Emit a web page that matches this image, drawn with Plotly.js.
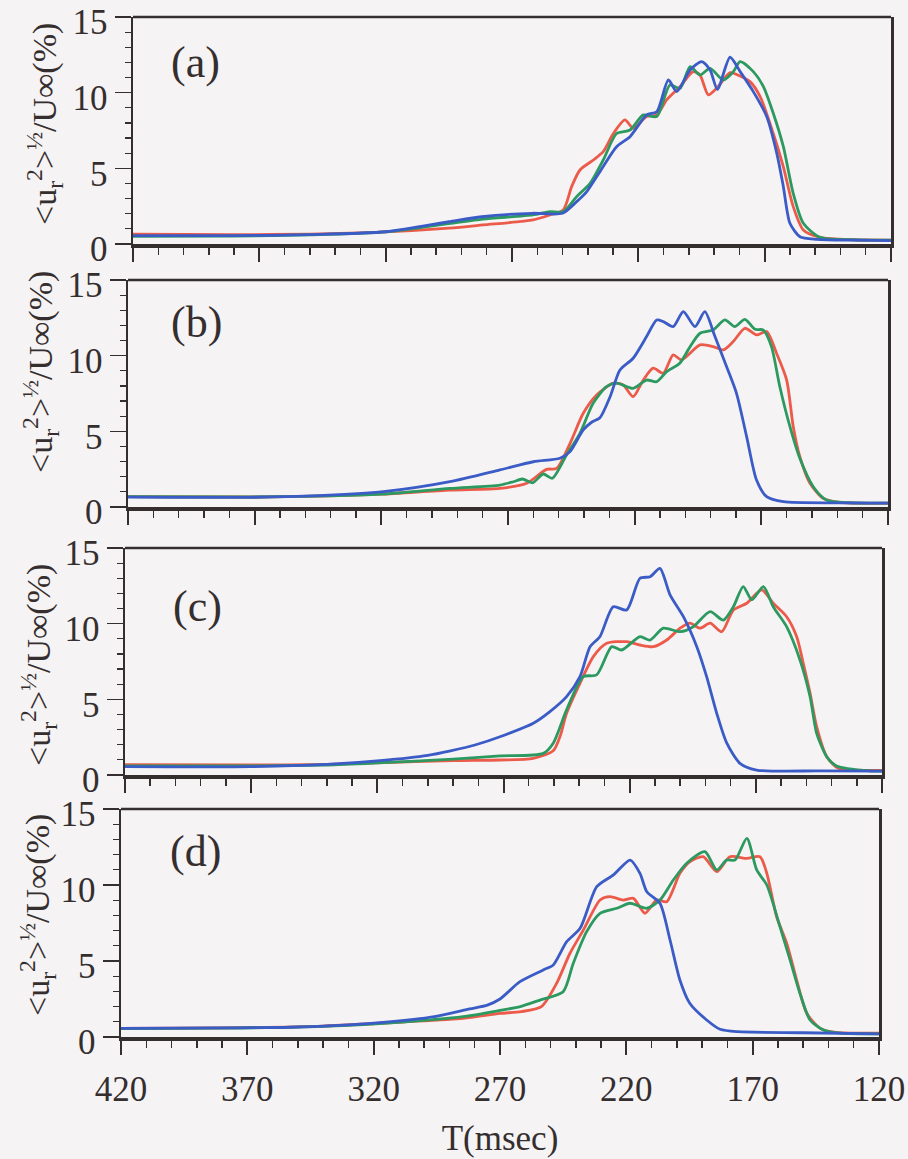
<!DOCTYPE html>
<html>
<head>
<meta charset="utf-8">
<script src="https://cdn.plot.ly/plotly-3.0.1.min.js"></script>
<style>
  html, body { margin: 0; padding: 0; background: #f5f3f4; }
  #chart { width: 908px; height: 1159px; }
</style>
</head>
<body>
<div id="chart"></div>
<script>
// ---------- data (T in msec, values in %) ----------
const PANEL_LABELS = ["(a)", "(b)", "(c)", "(d)"];
const X_TICKS = [420, 370, 320, 270, 220, 170, 120];
const Y_TICKS = [0, 5, 10, 15];

// Panel (a)
const T_A_RED = [420, 380, 350, 320, 295, 281.5, 261.7, 255, 249.7, 246.4, 243.1, 237.8, 233.9, 229.9, 225.3, 222, 216.7, 212.7, 208.8, 203.5, 198.3, 195.6, 192.3, 189, 183.7, 181.1, 175.8, 171.8, 166.6, 162.6, 158.7, 154.7, 148.1, 135, 120];
const V_A_RED = [0.65, 0.62, 0.65, 0.8, 1.05, 1.26, 1.59, 1.92, 2.25, 3.79, 4.89, 5.55, 6.1, 7.3, 8.2, 7.65, 8.42, 8.53, 9.52, 10.4, 11.39, 11.17, 9.85, 10.29, 11.32, 11.2, 10.73, 9.74, 7.3, 5.1, 2.47, 0.93, 0.44, 0.28, 0.26];
const T_A_GREEN = [420, 380, 350, 320, 295, 281.5, 261.7, 255, 249.7, 244.4, 239.1, 233.9, 228.6, 223.3, 218, 212.7, 207.5, 203.5, 199.5, 195.6, 191.6, 186.4, 182.4, 179.7, 174.5, 170.5, 166.6, 162.6, 158.7, 154.7, 148.1, 135, 120];
const V_A_GREEN = [0.5, 0.52, 0.6, 0.8, 1.35, 1.65, 1.92, 2.14, 2.14, 3.13, 4.01, 5.55, 7.3, 7.53, 8.53, 8.42, 10.51, 10.29, 11.72, 11.17, 11.61, 10.84, 11.39, 12.05, 11.39, 10.4, 8.64, 6.43, 3.35, 1.37, 0.44, 0.28, 0.25];
const T_A_BLUE = [420, 380, 350, 320, 295, 282, 262, 250, 244.4, 240.4, 235.2, 228.6, 223.3, 216.7, 212.7, 208.1, 204.8, 199.5, 194.9, 191.6, 188.7, 183.7, 179.7, 174.5, 169.2, 165.2, 162.6, 160, 156, 149.4, 135, 120];
const V_A_BLUE = [0.55, 0.55, 0.62, 0.81, 1.47, 1.8, 2.03, 2.03, 2.8, 3.46, 4.78, 6.43, 7.09, 8.53, 8.74, 10.84, 10.07, 11.5, 12.05, 11.5, 10.22, 12.34, 11.39, 10.07, 8.42, 5.99, 3.79, 1.37, 0.48, 0.31, 0.25, 0.22];

// Panel (b)
const T_B_RED = [420, 370, 345, 320, 292.9, 273.2, 262.6, 254.8, 250.8, 245.5, 240.3, 235, 228.4, 224.5, 220.6, 216.6, 212.7, 208.7, 204.8, 201.5, 194.2, 189, 185, 181.1, 176.5, 171.9, 167.9, 164, 160, 157.4, 154.8, 150.8, 145.6, 139, 120];
const V_B_RED = [0.68, 0.66, 0.72, 0.85, 1.12, 1.23, 1.57, 2.49, 2.55, 4.21, 6.19, 7.4, 8.18, 8.06, 7.29, 8.39, 9.17, 8.84, 10.05, 9.72, 10.71, 10.6, 10.38, 10.93, 11.81, 11.37, 11.59, 10.16, 8.39, 5.31, 3.33, 1.57, 0.58, 0.3, 0.25];
const T_B_GREEN = [420, 370, 345, 320, 292.9, 273.2, 267.9, 264.3, 260.3, 256.1, 252.5, 246.9, 241.6, 236.4, 231.1, 227.1, 220.6, 215.3, 211.3, 207.4, 202.2, 198.1, 194.2, 189, 184.4, 180.5, 176.5, 172.5, 169.3, 166, 162.7, 158.7, 154.8, 149.5, 144.3, 135, 120];
const V_B_GREEN = [0.68, 0.66, 0.72, 0.85, 1.23, 1.45, 1.67, 1.85, 1.6, 2.18, 1.9, 3.44, 4.87, 6.85, 7.95, 8.18, 7.84, 8.39, 8.28, 8.94, 9.5, 10.6, 11.48, 11.7, 12.36, 11.92, 12.4, 11.74, 11.7, 10.6, 7.95, 5.31, 3.22, 1.34, 0.46, 0.28, 0.25];
const T_B_BLUE = [420, 371.8, 345, 319.2, 292.9, 273.2, 260, 249.5, 245.5, 240.3, 237, 233.7, 229.7, 225.8, 220.6, 215.3, 211.3, 208.7, 204.8, 200.8, 196.2, 192.3, 188.3, 183.7, 179.8, 175.8, 171.9, 167.9, 161.3, 140, 120];
const V_B_BLUE = [0.65, 0.64, 0.75, 1.01, 1.67, 2.45, 2.99, 3.22, 3.66, 5.09, 5.6, 5.9, 7.29, 9.05, 9.83, 11.26, 12.36, 12.25, 11.92, 12.91, 11.92, 12.91, 11.26, 9.27, 7.51, 4.65, 1.78, 0.68, 0.35, 0.27, 0.25];

// Panel (c)
const T_C_RED = [420, 370, 340, 320, 290, 271.4, 258.2, 250.3, 247.5, 245, 239.7, 234.4, 229.1, 221.2, 215.9, 210.6, 205.3, 200, 196.1, 192.1, 188.1, 183.5, 178.9, 173.6, 167.7, 163.1, 157.8, 153.8, 151.2, 148.5, 145.9, 141.9, 137.3, 125, 120];
const V_C_RED = [0.68, 0.66, 0.7, 0.8, 0.95, 0.99, 1.1, 1.6, 2.6, 4.08, 6.06, 7.82, 8.7, 8.81, 8.59, 8.48, 8.92, 9.7, 10.03, 9.7, 10.03, 9.47, 10.9, 11.35, 12.23, 11.35, 10.46, 9.14, 7.38, 5.4, 3.19, 1.21, 0.44, 0.3, 0.3];
const T_C_GREEN = [420, 370, 340, 320, 290, 271.4, 254.2, 250.3, 245, 238.4, 233.1, 227.1, 223.2, 215.9, 211.9, 206.7, 200, 194.8, 188.1, 182.9, 178.9, 175, 171.6, 167, 163.1, 157.8, 152.5, 148.5, 145.9, 141.9, 138, 125, 120];
const V_C_GREEN = [0.6, 0.6, 0.66, 0.8, 1.05, 1.26, 1.43, 2.1, 4.3, 6.5, 6.61, 8.48, 8.26, 9.14, 8.92, 9.7, 9.47, 9.8, 10.79, 10.24, 11.12, 12.45, 11.57, 12.45, 11.12, 9.8, 7.6, 5.18, 2.76, 1.21, 0.6, 0.27, 0.25];
const T_C_BLUE = [420, 370, 340, 318.9, 300, 291, 281, 271.4, 258.2, 251.6, 245, 239.7, 235.7, 231.8, 226.5, 221.2, 215.9, 211.9, 208, 204, 198.7, 193.4, 189.5, 185.5, 181.5, 176.3, 169.7, 145, 120];
const V_C_BLUE = [0.55, 0.55, 0.7, 0.95, 1.3, 1.6, 2.0, 2.53, 3.42, 4.19, 5.18, 6.5, 8.48, 9.14, 11.12, 10.9, 13.0, 13.1, 13.66, 11.9, 10.46, 8.48, 6.5, 4.08, 2.1, 0.77, 0.33, 0.27, 0.25];

// Panel (d)
const T_D_RED = [420, 380, 340, 307.5, 284.6, 270, 261.6, 253.6, 247.6, 242.3, 237, 230.4, 226.5, 221.2, 217.2, 212.6, 208, 204, 198.8, 194.9, 189.6, 184.2, 179, 172.3, 167.1, 164.4, 160.5, 156.5, 152.6, 148.6, 143.3, 137, 120];
const V_D_RED = [0.57, 0.6, 0.72, 1.0, 1.23, 1.55, 1.67, 2.0, 3.53, 5.51, 7.04, 9.01, 9.23, 9.01, 9.12, 8.14, 9.01, 8.9, 10.77, 11.53, 11.86, 10.88, 11.86, 11.75, 11.86, 10.77, 7.91, 6.16, 3.75, 1.56, 0.57, 0.3, 0.25];
const T_D_GREEN = [420, 380, 340, 307.5, 284.6, 270, 262, 254.2, 245, 241, 235.7, 230.4, 223.8, 218.5, 211.9, 206.7, 201.4, 196.1, 188.9, 184.2, 180.3, 177, 172.3, 168.4, 164.4, 159.2, 155.2, 151.3, 147.3, 142, 135, 120];
const V_D_GREEN = [0.55, 0.58, 0.7, 1.0, 1.34, 1.75, 2.0, 2.43, 2.98, 4.85, 6.93, 8.14, 8.47, 8.8, 8.47, 9.01, 10.33, 11.43, 12.19, 10.99, 11.64, 11.64, 13.07, 10.99, 10.0, 7.26, 5.07, 2.88, 1.12, 0.46, 0.25, 0.2];
const T_D_BLUE = [420, 380, 353.3, 321.2, 296, 282, 275, 270, 262.1, 252.9, 248.9, 243.6, 238.3, 231.7, 225.1, 218.5, 214.6, 211.9, 206.7, 202.7, 198.8, 194.9, 188.2, 182.9, 175.8, 150, 120];
const V_D_BLUE = [0.57, 0.6, 0.64, 0.9, 1.34, 1.85, 2.1, 2.5, 3.64, 4.41, 4.74, 6.27, 7.15, 9.89, 10.66, 11.64, 10.77, 9.56, 8.8, 6.38, 3.75, 2.22, 1.12, 0.51, 0.35, 0.28, 0.2];

// ---------- styling ----------
const RED = "#ec5a4a", GREEN = "#2c9960", BLUE = "#3b5cc6";
const INK = "#352e2e";
const FONT = "Liberation Serif, Times New Roman, serif";
const BG = "#f5f3f4";

const W = 908, H = 1159;
// pixel boxes of the four panels: [left, right, top, bottom]
const BOXES = [
  [133, 891, 17, 244],
  [128, 888, 280, 507],
  [125, 882, 548, 775],
  [121, 879, 809, 1037]
];
const LABEL_POS = [[195, 62], [196, 322], [197, 607], [195, 851]];
const YTITLE_POS = [[44, 124], [41, 372], [38, 665], [37, 915]];

const series = [
  [[T_A_RED, V_A_RED], [T_A_GREEN, V_A_GREEN], [T_A_BLUE, V_A_BLUE]],
  [[T_B_RED, V_B_RED], [T_B_GREEN, V_B_GREEN], [T_B_BLUE, V_B_BLUE]],
  [[T_C_RED, V_C_RED], [T_C_GREEN, V_C_GREEN], [T_C_BLUE, V_C_BLUE]],
  [[T_D_RED, V_D_RED], [T_D_GREEN, V_D_GREEN], [T_D_BLUE, V_D_BLUE]]
];
const COLORS = [RED, GREEN, BLUE];

const traces = [];
series.forEach((panel, i) => {
  const sfx = i === 0 ? "" : String(i + 1);
  panel.forEach((s, j) => {
    traces.push({
      type: "scatter", mode: "lines",
      x: s[0], y: s[1],
      xaxis: "x" + sfx, yaxis: "y" + sfx,
      line: { color: COLORS[j], width: 2.8, shape: "spline", smoothing: 0.7 },
      hoverinfo: "skip", showlegend: false
    });
  });
});

const layout = {
  width: W, height: H,
  margin: { l: 0, r: 0, t: 0, b: 0 },
  paper_bgcolor: BG, plot_bgcolor: BG,
  showlegend: false,
  font: { family: FONT, color: INK, size: 32 },
  annotations: [], shapes: []
};

const ytitle = "&lt;u<sub>r</sub><sup>2</sup>&gt;<sup>½</sup>/U∞(%)";

BOXES.forEach((b, i) => {
  const sfx = i === 0 ? "" : String(i + 1);
  const last = i === BOXES.length - 1;
  const xa = {
    domain: [b[0] / W, b[1] / W],
    anchor: "y" + sfx,
    range: [420, 120],
    tickmode: "array", tickvals: X_TICKS,
    ticks: "outside", ticklen: 14, tickwidth: 2, tickcolor: INK,
    minor: { dtick: 10, tick0: 420, ticks: "outside", ticklen: 7, tickwidth: 1.5, tickcolor: INK, showgrid: false },
    showticklabels: last,
    ticklabelstandoff: 4,
    ticklabeloverflow: "allow",
    tickfont: { family: FONT, size: 35, color: INK },
    showline: true, linewidth: 4, linecolor: INK, mirror: false,
    showgrid: false, zeroline: false, fixedrange: true
  };
  if (last) xa.title = { text: "T(msec)", font: { family: FONT, size: 35, color: INK }, standoff: 18 };
  layout["xaxis" + sfx] = xa;
  layout["yaxis" + sfx] = {
    domain: [1 - b[3] / H, 1 - b[2] / H],
    anchor: "x" + sfx,
    range: [0, 15],
    tickmode: "array", tickvals: Y_TICKS,
    ticks: "outside", ticklen: 16, tickwidth: 1.6, tickcolor: INK,
    minor: { dtick: 1, ticks: "outside", ticklen: 6, tickwidth: 1.2, tickcolor: INK, showgrid: false },
    ticklabeloverflow: "allow",
    ticklabelshift: 5,
    tickfont: { family: FONT, size: 35, color: INK },
    showline: true, linewidth: 2.5, linecolor: INK, mirror: true,
    showgrid: false, zeroline: false, fixedrange: true
  };
  // top frame line of the panel
  layout.shapes.push({
    type: "line", xref: "x" + sfx + " domain", yref: "y" + sfx + " domain",
    x0: 0, x1: 1, y0: 1, y1: 1,
    line: { color: INK, width: 2.5 }
  });
  layout.annotations.push({
    text: PANEL_LABELS[i], xref: "paper", yref: "paper",
    x: LABEL_POS[i][0] / W, y: 1 - LABEL_POS[i][1] / H,
    xanchor: "center", yanchor: "middle", showarrow: false,
    font: { family: FONT, size: 44, color: INK }
  });
  layout.annotations.push({
    text: ytitle, xref: "paper", yref: "paper",
    x: YTITLE_POS[i][0] / W, y: 1 - YTITLE_POS[i][1] / H,
    xanchor: "center", yanchor: "middle", showarrow: false, textangle: -90,
    font: { family: FONT, size: 34, color: INK }
  });
});

Plotly.newPlot("chart", traces, layout, { staticPlot: true, displayModeBar: false });
</script>
</body>
</html>
